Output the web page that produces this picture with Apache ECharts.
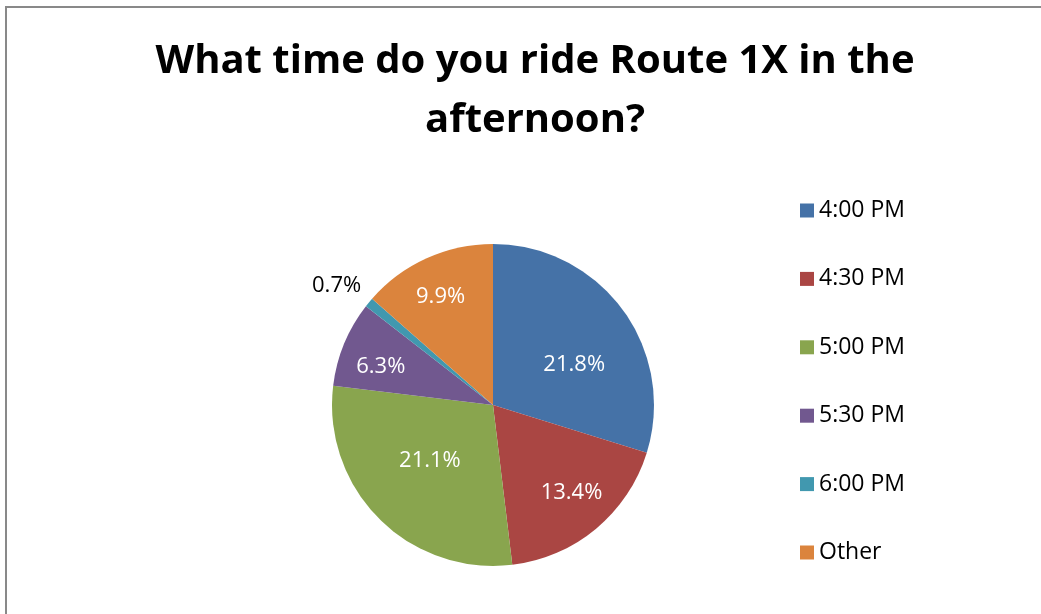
<!DOCTYPE html>
<html>
<head>
<meta charset="utf-8">
<title>Route 1X afternoon</title>
<script src="https://cdn.jsdelivr.net/npm/echarts@6/dist/echarts.min.js"></script>
<style>
  html, body { margin: 0; padding: 0; background: #fff; }
  #frame { position: absolute; left: 5px; top: 6px; width: 1036px; height: 608px;
           border-left: 2px solid #898989; border-top: 2px solid #898989; }
  #container { width: 1041px; height: 614px; position: absolute; left: 0; top: 0; }
</style>
</head>
<body>
<div id="frame"></div>
<div id="container"></div>
<script>
var categories = ['4:00 PM', '4:30 PM', '5:00 PM', '5:30 PM', '6:00 PM', 'Other'];
var values = [21.8, 13.4, 21.1, 6.3, 0.7, 9.9];
var colors = ['#4572A7', '#AA4643', '#89A54E', '#71588F', '#4198AF', '#DB843D'];

var font = 'Open Sans';
var myChart = echarts.init(document.getElementById('container'));

// nudges so labels sit where the original "best fit" put them
var labelNudge = {
  '4:00 PM': [14, 9],
  '4:30 PM': [25, 24],
  '5:00 PM': [-4, -3],
  '5:30 PM': [-35, -6],
  '6:00 PM': [8, -8],
  'Other': [-18, -32]
};

var data = [];
for (var i = 0; i < categories.length; i++) {
  var item = {
    name: categories[i],
    value: values[i],
    itemStyle: { color: colors[i] },
    label: { offset: labelNudge[categories[i]] }
  };
  if (categories[i] == '6:00 PM') {
    item.label.position = 'outside';
    item.label.color = '#000';
    item.labelLine = { show: false, length: 14, length2: 0 };
  }
  data.push(item);
}

var option = {
  animation: false,
  title: {
    text: 'What time do you ride Route 1X in the\nafternoon?',
    left: 530,
    top: 27,
    textAlign: 'center',
    textStyle: { fontFamily: font, fontWeight: 'bold', fontSize: 40, lineHeight: 59, color: '#000' }
  },
  legend: {
    orient: 'vertical',
    left: 795,
    top: 194,
    icon: 'rect',
    itemWidth: 14,
    itemHeight: 14,
    itemGap: 45.4,
    data: categories,
    textStyle: { fontFamily: font, fontSize: 23, lineHeight: 22, color: '#000' }
  },
  series: [{
    type: 'pie',
    center: [493, 405],
    radius: 161,
    startAngle: 90,
    clockwise: true,
    avoidLabelOverlap: false,
    label: {
      position: 'inner',
      formatter: function (p) { return p.value.toFixed(1) + '%'; },
      fontFamily: font,
      fontSize: 22,
      color: '#fff'
    },
    labelLine: { show: false },
    itemStyle: { borderColor: '#fff', borderWidth: 0 },
    emphasis: { disabled: true },
    data: data
  }]
};
myChart.setOption(option);
</script>
</body>
</html>
